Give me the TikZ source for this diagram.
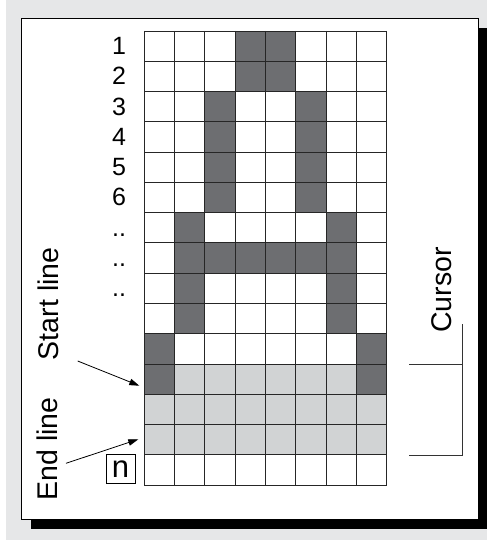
\documentclass[tikz,border=0pt]{standalone}
\usepackage{fontspec}
\setmainfont{Liberation Sans}
\usepackage{xcolor}
\usepackage{tikz}
\usetikzlibrary{arrows.meta}
\usetikzlibrary{positioning}

\definecolor{bggrey}{HTML}{E6E7E8}
\definecolor{pixdark}{HTML}{6D6E71}
\definecolor{pixlight}{HTML}{D1D3D4}

\begin{document}
\begin{tikzpicture}[
  x=1pt, y=-1pt,
  gridline/.style={draw=black!85,line width=0.9pt},
  rowlabel/.style={anchor=base,inner sep=0pt,font=\fontsize{25}{30}\selectfont},
  sidelabel/.style={rotate=90,inner sep=0pt,font=\fontsize{28.5}{34}\selectfont},
  pointer/.style={line width=0.8pt,-{Triangle[length=10pt,width=6.5pt]}},
  bracket/.style={line width=0.8pt,draw=black!80}
]
  \useasboundingbox (0,0) rectangle (487,540);
  \fill[bggrey] (6,0) rectangle (487,540);
  % panel with its shadow
  \fill[black] (31,28) rectangle (487,528.7);
  \draw[fill=white,line width=0.9pt] (21.7,18.3) rectangle (478.3,519.3);

  \begin{scope}[shift={(144.3,31)}, x=30.3pt, y=-30.27pt]
    \foreach \c/\r in {4/1,5/1,4/2,5/2,3/3,6/3,3/4,6/4,3/5,6/5,3/6,6/6,
                       2/7,7/7,2/8,3/8,4/8,5/8,6/8,7/8,2/9,7/9,2/10,7/10,
                       1/11,8/11,1/12,8/12}
      \fill[pixdark] (\c-1,\r-1) rectangle (\c,\r);
    \fill[pixlight] (1,11) rectangle (7,12);
    \fill[pixlight] (0,12) rectangle (8,14);

    \foreach \i in {0,...,8} \draw[gridline] (\i,0) -- (\i,15);
    \foreach \j in {0,...,15} \draw[gridline] (0,\j) -- (8,\j);

    \foreach \lbl [count=\r] in {1,2,3,4,5,6,{..},{..},{..}}
      \node[rowlabel] (row\r) at (-0.835,\r-0.22) {\lbl};
  \end{scope}

  \node[draw,line width=0.8pt,minimum size=29pt,inner sep=0pt,
        font=\fontsize{31}{34}\selectfont] (nbox) at (120.5,469.2) {n};

  \node[sidelabel] (startlbl) at (48.8,303.8) {Start line};
  \node[sidelabel] (endlbl) at (47,449) {End line};
  \node[sidelabel] (cursorlbl) at (441.7,290) {Cursor};

  \coordinate (starttail) at (77.7,361);
  \coordinate (starthead) at (139.3,385.7);
  \coordinate (endtail) at (66,463.3);
  \coordinate (endhead) at (138.3,439.3);
  \draw[pointer] (starttail) -- (starthead);
  \draw[pointer] (endtail) -- (endhead);

  % cursor bracket
  \coordinate (curtop) at (462,324.3);
  \coordinate (curbot) at (462,455.7);
  \coordinate (curA) at (409.3,364);
  \coordinate (curB) at (409.3,455.7);
  \draw[bracket] (curtop) -- (curbot);
  \draw[bracket] (curA) -- (curA -| curtop);
  \draw[bracket] (curB) -- (curbot);
\end{tikzpicture}
\end{document}
